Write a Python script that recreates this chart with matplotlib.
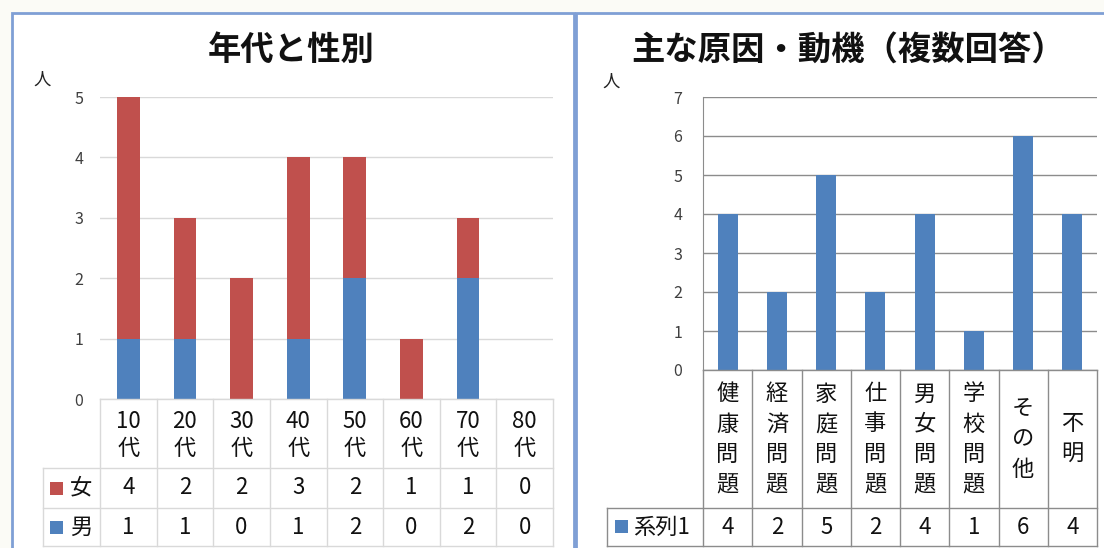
import matplotlib
matplotlib.use('Agg')
import matplotlib.pyplot as plt
from matplotlib.transforms import blended_transform_factory as blend
from matplotlib.patches import Rectangle
from matplotlib.lines import Line2D

plt.rcParams['font.family'] = ['Noto Sans CJK JP', 'DejaVu Sans']

# ---------------- data ----------------
ages = ['10代', '20代', '30代', '40代', '50代', '60代', '70代', '80代']
female = [4, 2, 2, 3, 2, 1, 1, 0]
male = [1, 1, 0, 1, 2, 0, 2, 0]
female_label = '女'
male_label = '男'

causes = ['健康問題', '経済問題', '家庭問題', '仕事問題', '男女問題', '学校問題', 'その他', '不明']
cause_counts = [4, 2, 5, 2, 4, 1, 6, 4]
series_name = '系列1'

title_left = '年代と性別'
title_right = '主な原因・動機（複数回答）'
y_unit = '人'
left_yticks = [0, 1, 2, 3, 4, 5]
right_yticks = [0, 1, 2, 3, 4, 5, 6, 7]

# ---------------- style ----------------
RED = '#C0504D'
BLUE = '#4F81BD'
LGRID = '#D9D9D9'
DGRID = '#8C8C8C'
BORDER = '#7F9FD5'
W, H = 1104, 548

fig = plt.figure(figsize=(W / 100, H / 100), dpi=100, facecolor='#fbfbf6')


def X(x):
    return x / W


def Y(y):
    return 1 - y / H


# panel frames
for x0, x1 in [(12, 574), (576, 1114)]:
    fig.add_artist(Rectangle((X(x0), Y(560)), X(x1) - X(x0), Y(13) - Y(560),
                             transform=fig.transFigure, facecolor='white',
                             edgecolor=BORDER, lw=2.0, zorder=-5))

fig.text(X(291), Y(50), title_left, ha='center', va='center', fontsize=24,
         fontweight='bold', color='#111111')
fig.text(X(848), Y(50), title_right, ha='center', va='center', fontsize=24,
         fontweight='bold', color='#111111')
fig.text(X(42), Y(80), y_unit, ha='center', va='center', fontsize=12.5, color='#222222')
fig.text(X(611), Y(82), y_unit, ha='center', va='center', fontsize=12.5, color='#222222')

TFS = 16  # table font size
TICKFS = 11.5

# ---------------- left chart ----------------
axL = fig.add_axes([X(100), Y(399), X(553) - X(100), Y(97) - Y(399)])
axL.set_facecolor('none')
xs = list(range(len(ages)))
axL.bar(xs, male, width=0.4, color=BLUE, zorder=3)
axL.bar(xs, female, bottom=male, width=0.4, color=RED, zorder=3)
axL.set_xlim(-0.5, len(ages) - 0.5)
axL.set_ylim(0, 5)
axL.set_yticks(left_yticks)
axL.set_xticks([])
axL.grid(axis='y', color=LGRID, lw=1, zorder=0)
for s in axL.spines.values():
    s.set_visible(False)
axL.tick_params(axis='y', length=0, pad=12, labelsize=TICKFS, labelcolor='#404040')

tL = blend(axL.transData, fig.transFigure)
n = len(ages)
xr = n - 0.5
lab_left = -1.5
kw = dict(color=LGRID, lw=1, transform=tL, clip_on=False)
for yy, xa in [(399, -0.5), (468, lab_left), (508, lab_left), (546, lab_left)]:
    fig.add_artist(Line2D([xa, xr], [Y(yy), Y(yy)], **kw))
for i in range(n + 1):
    fig.add_artist(Line2D([i - 0.5, i - 0.5], [Y(399), Y(546)], **kw))
fig.add_artist(Line2D([lab_left, lab_left], [Y(468), Y(546)], **kw))

for i, lab in enumerate(ages):
    parts = [lab[:-1], lab[-1]]
    for j, p in enumerate(parts):
        fig.text(i, Y(422 + 26 * j), p, transform=tL, ha='center', va='center',
                 fontsize=TFS, color='#111111')
    fig.text(i, Y(488), str(female[i]), transform=tL, ha='center', va='center',
             fontsize=TFS, color='#111111')
    fig.text(i, Y(527), str(male[i]), transform=tL, ha='center', va='center',
             fontsize=TFS, color='#111111')

for yc, col, lab in [(488, RED, female_label), (527, BLUE, male_label)]:
    fig.add_artist(Rectangle((X(50), Y(yc + 6.5)), X(13), 13 / H,
                             transform=fig.transFigure, facecolor=col, edgecolor='none'))
    fig.text(X(81), Y(yc), lab, ha='center', va='center', fontsize=TFS, color='#111111')

# ---------------- right chart ----------------
axR = fig.add_axes([X(703), Y(370), X(1097) - X(703), Y(97) - Y(370)])
axR.set_facecolor('none')
xs = list(range(len(causes)))
axR.bar(xs, cause_counts, width=0.41, color=BLUE, zorder=3)
axR.set_xlim(-0.5, len(causes) - 0.5)
axR.set_ylim(0, 7)
axR.set_yticks(right_yticks)
axR.set_xticks([])
axR.grid(axis='y', color=DGRID, lw=1, zorder=0)
for k, s in axR.spines.items():
    s.set_visible(k == 'left')
axR.spines['left'].set_color(DGRID)
axR.tick_params(axis='y', length=0, pad=15, labelsize=TICKFS, labelcolor='#404040')

tR = blend(axR.transData, fig.transFigure)
n = len(causes)
xr = n - 0.5
col_px = (1097 - 703) / n
lab_left = -0.5 - (703 - 607) / col_px
kw = dict(color=DGRID, lw=1, transform=tR, clip_on=False)
for yy, xa in [(370, -0.5), (508, lab_left), (546, lab_left)]:
    fig.add_artist(Line2D([xa, xr], [Y(yy), Y(yy)], **kw))
for i in range(n + 1):
    fig.add_artist(Line2D([i - 0.5, i - 0.5], [Y(370), Y(546)], **kw))
fig.add_artist(Line2D([lab_left, lab_left], [Y(508), Y(546)], **kw))

for i, lab in enumerate(causes):
    m = len(lab)
    for j, ch in enumerate(lab):
        yc = 439 + (j - (m - 1) / 2) * 30
        fig.text(i, Y(yc), ch, transform=tR, ha='center', va='center',
                 fontsize=TFS, color='#111111')
    fig.text(i, Y(527), str(cause_counts[i]), transform=tR, ha='center', va='center',
             fontsize=TFS, color='#111111')

fig.add_artist(Rectangle((X(615), Y(533)), X(13), 13 / H,
                         transform=fig.transFigure, facecolor=BLUE, edgecolor='none'))
fig.text(X(633), Y(527), series_name, ha='left', va='center', fontsize=TFS, color='#111111')

fig.savefig('out.png', dpi=100, facecolor=fig.get_facecolor())
